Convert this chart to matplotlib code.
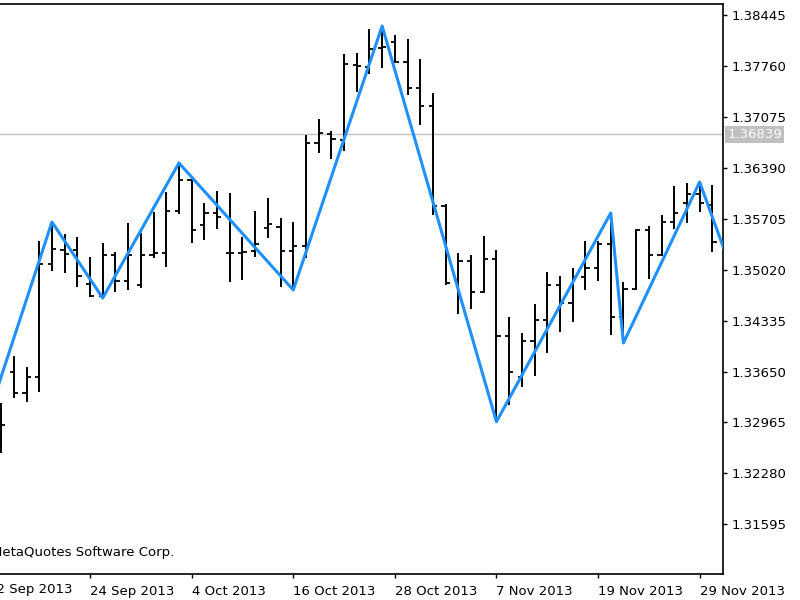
import matplotlib
matplotlib.use('Agg')
import matplotlib.pyplot as plt
import matplotlib.transforms as mtransforms
import numpy as np
import pandas as pd

# daily bars, index 0 = 12 Sep 2013 (trading days)
bar_idx = list(range(1, 58))
opens = [1.32998, 1.33644, 1.33361, 1.33576, 1.35096, 1.35285, 1.35285, 1.34827, 1.34666, 1.35217,
         1.34868, 1.34814, 1.35217, 1.35244, 1.35809, 1.36226, 1.35621, 1.35782, 1.35244, 1.35244,
         1.35271, 1.35580, 1.35594, 1.35271, 1.35338, 1.36724, 1.36845, 1.36764, 1.37773, 1.37746,
         1.38001, 1.38082, 1.37813, 1.37463, 1.37221, 1.35876, 1.34881, 1.35137, 1.34720, 1.35163,
         1.34128, 1.33576, 1.34061, 1.34343, 1.34814, 1.34572, 1.34921, 1.35042, 1.35365, 1.34383,
         1.34760, 1.35554, 1.35217, 1.35661, 1.35917, 1.36038, 1.35890]
highs = [1.33227, 1.33859, 1.33711, 1.35406, 1.35661, 1.35500, 1.35459, 1.35190, 1.35379, 1.35258,
         1.35648, 1.35513, 1.35796, 1.36065, 1.36455, 1.36226, 1.35917, 1.36078, 1.36051, 1.35459,
         1.35809, 1.35984, 1.35715, 1.35661, 1.36831, 1.37046, 1.36885, 1.37921, 1.37934, 1.38257,
         1.38297, 1.38176, 1.38122, 1.37853, 1.37396, 1.35903, 1.35244, 1.35217, 1.35473, 1.35285,
         1.34383, 1.34168, 1.34558, 1.34989, 1.34935, 1.35042, 1.35406, 1.35406, 1.35782, 1.34854,
         1.35567, 1.35607, 1.35755, 1.36145, 1.36186, 1.36199, 1.36159]
lows = [1.32554, 1.33294, 1.33240, 1.33375, 1.35002, 1.34975, 1.34787, 1.34652, 1.34639, 1.34720,
        1.34747, 1.34773, 1.35177, 1.35056, 1.35769, 1.35379, 1.35419, 1.35567, 1.34854, 1.34881,
        1.35190, 1.35446, 1.34787, 1.34747, 1.35177, 1.36589, 1.36508, 1.36616, 1.37410, 1.37652,
        1.37732, 1.37800, 1.37369, 1.36966, 1.35755, 1.34814, 1.34424, 1.34491, 1.34706, 1.32971,
        1.33200, 1.33442, 1.33590, 1.33899, 1.34182, 1.34316, 1.34747, 1.34868, 1.34141, 1.34034,
        1.34747, 1.34894, 1.35204, 1.35567, 1.35648, 1.35796, 1.35258]
closes = [1.32931, 1.33361, 1.33576, 1.35096, 1.35298, 1.35231, 1.34935, 1.34666, 1.35217, 1.34868,
          1.35217, 1.35217, 1.35244, 1.35809, 1.36226, 1.35554, 1.35782, 1.35728, 1.35244, 1.35258,
          1.35365, 1.35634, 1.35271, 1.35338, 1.36724, 1.36858, 1.36777, 1.37786, 1.37759, 1.37988,
          1.38015, 1.37813, 1.37463, 1.37221, 1.35876, 1.34841, 1.35137, 1.34720, 1.35163, 1.34128,
          1.33644, 1.34061, 1.34343, 1.34814, 1.34572, 1.34921, 1.35042, 1.35365, 1.34383, 1.34760,
          1.35554, 1.35217, 1.35661, 1.35782, 1.36038, 1.35917, 1.35392]

zz_idx = [0, 5, 9, 15, 24, 31, 40, 49, 50, 56, 58]
zz_price = [1.33059, 1.35661, 1.34639, 1.36455, 1.34747, 1.38297, 1.32975, 1.35782, 1.34034, 1.36199, 1.35258]

last_price = 1.36839
price_ticks = [1.31595, 1.32280, 1.32965, 1.33650, 1.34335, 1.35020, 1.35705, 1.36390, 1.37075, 1.37760, 1.38445]
dates = pd.bdate_range('2013-09-12', periods=59)
date_tick_idx = [0, 8, 16, 24, 32, 40, 48, 56]
date_labels = [f"{dates[i].day} {dates[i].strftime('%b %Y')}" for i in date_tick_idx]

fs = 9.5
fig = plt.figure(figsize=(8, 6), dpi=100)
ax = fig.add_axes([0, 26 / 600, 723 / 800, 570 / 600])

x = np.array(bar_idx)
ax.axhline(last_price, color='#c0c0c0', lw=1, zorder=1)
ax.vlines(x, lows, highs, color='black', lw=1.4, zorder=2)
ax.hlines(opens, x - 0.33, x, color='black', lw=1.3, zorder=2)
ax.hlines(closes, x, x + 0.33, color='black', lw=1.3, zorder=2)
ax.plot(zz_idx, zz_price, color='#1e90ff', lw=2.2, zorder=3)

ax.set_xlim(0.91, 57.84)
ax.set_ylim(1.30927, 1.38593)

for s in ['top', 'right', 'bottom']:
    ax.spines[s].set_color('black')
    ax.spines[s].set_linewidth(1.2)
ax.spines['left'].set_visible(False)

ax.yaxis.tick_right()
ax.set_yticks(price_ticks)
ax.set_yticklabels([f"{p:.5f}" for p in price_ticks])
ax.tick_params(axis='y', direction='out', length=3, width=1, pad=3, labelsize=fs)

ax.set_xticks(date_tick_idx[1:])
ax.set_xticklabels(date_labels[1:])
ax.tick_params(axis='x', direction='out', length=3, width=1, pad=5, labelsize=fs)
plt.setp(ax.get_xticklabels(), ha='left')

# first date label sits left of the view and is cut by the figure edge
trans = mtransforms.blended_transform_factory(ax.transData, ax.transAxes)
ax.text(date_tick_idx[0] - 0.05, -0.0165, date_labels[0], transform=trans, ha='left', va='top',
        fontsize=fs, clip_on=False)

ax.text(-0.0125, 0.038, 'MetaQuotes Software Corp.', transform=ax.transAxes, ha='left', va='center',
        fontsize=fs, clip_on=True)

tr2 = mtransforms.blended_transform_factory(ax.transAxes, ax.transData)
ax.text(1.006, last_price, f"{last_price:.5f}", transform=tr2, ha='left', va='center', fontsize=fs,
        color='white', bbox=dict(facecolor='#c0c0c0', edgecolor='none', pad=1.6))

fig.savefig('out.png', dpi=100)
